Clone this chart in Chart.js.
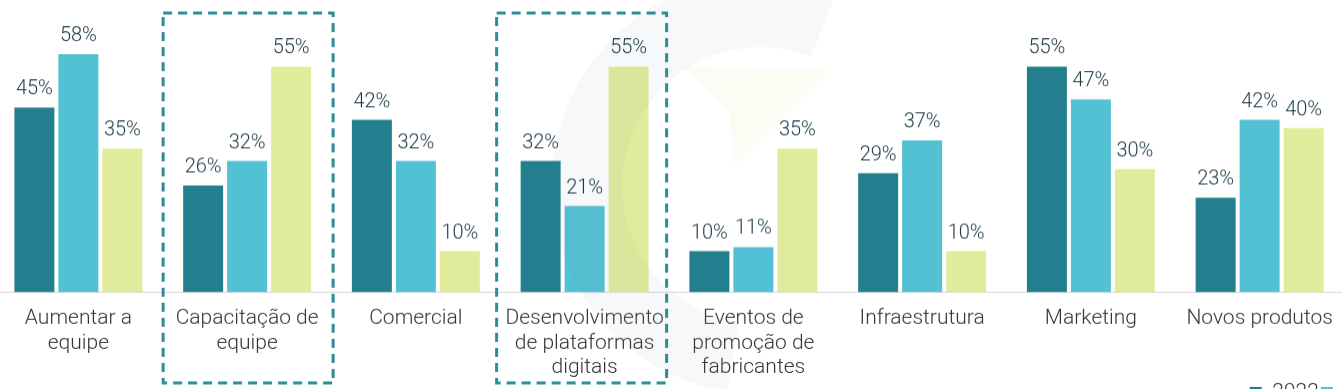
<!DOCTYPE html>
<html>
<head>
<meta charset="utf-8">
<script src="https://cdn.jsdelivr.net/npm/chart.js@4.4.1/dist/chart.umd.min.js"></script>
<style>
  html, body { margin: 0; padding: 0; background: #fff; overflow: hidden; }
  body { width: 1342px; height: 389px; position: relative; }
  #wrap { position: absolute; left: -6px; top: 0; width: 1469px; height: 412.5px; }
</style>
</head>
<body>
<div id="wrap"><canvas id="chart"></canvas></div>
<script>
const categories = [
  ["Aumentar a", "equipe"],
  ["Capacitação de", "equipe"],
  ["Comercial"],
  ["Desenvolvimento", "de plataformas", "digitais"],
  ["Eventos de", "promoção de", "fabricantes"],
  ["Infraestrutura"],
  ["Marketing"],
  ["Novos produtos"]
];
const seriesNames = ["2022", "2023", "2024"];
const values2022 = [45, 26, 42, 32, 10, 29, 55, 23];
const values2023 = [58, 32, 32, 21, 11, 37, 47, 42];
const values2024 = [35, 55, 10, 55, 35, 10, 30, 40];
const highlighted = [1, 3];
const frameShift = [0, -4];

const colors = ["#237f8e", "#53c1d4", "#e1eb9c"];

// value labels above each bar
const valueLabels = {
  id: "valueLabels",
  afterDatasetsDraw(chart) {
    const ctx = chart.ctx;
    ctx.save();
    ctx.font = "300 20px Roboto";
    ctx.fillStyle = "#1b3846";
    ctx.textAlign = "center";
    ctx.textBaseline = "alphabetic";
    chart.data.datasets.forEach((ds, i) => {
      chart.getDatasetMeta(i).data.forEach((bar, j) => {
        ctx.fillText(ds.data[j] + "%", bar.x, bar.y - 13);
      });
    });
    ctx.restore();
  }
};

// faint logo watermark behind the middle of the chart
const watermark = {
  id: "watermark",
  afterDatasetsDraw(chart) {
    const ctx = chart.ctx;
    ctx.save();
    ctx.fillStyle = "rgba(120,140,155,0.06)";
    ctx.beginPath();
    ctx.arc(766, 185, 208, Math.PI * 0.55, Math.PI * 1.62);
    ctx.arc(766, 185, 138, Math.PI * 1.62, Math.PI * 0.55, true);
    ctx.closePath();
    ctx.fill();
    ctx.fillStyle = "rgba(215,225,120,0.09)";
    ctx.beginPath();
    ctx.moveTo(688, 66);
    ctx.lineTo(836, 70);
    ctx.lineTo(740, 165);
    ctx.lineTo(735, 112);
    ctx.closePath();
    ctx.fill();
    ctx.restore();
  }
};

// dashed frames around highlighted categories
const frames = {
  id: "frames",
  afterDraw(chart) {
    const ctx = chart.ctx;
    const x = chart.scales.x;
    const area = chart.chartArea;
    ctx.save();
    ctx.strokeStyle = "#2b8e96";
    ctx.lineWidth = 3;
    ctx.setLineDash([9, 6]);
    highlighted.forEach((idx, k) => {
      const cx = x.getPixelForValue(idx) + frameShift[k];
      const top = area.top + 8;
      const bottom = area.bottom + 90.5;
      ctx.strokeRect(cx - 84, top, 170, bottom - top);
    });
    ctx.restore();
  }
};

new Chart(document.getElementById("chart").getContext("2d"), {
  type: "bar",
  data: {
    labels: categories,
    datasets: [
      { label: seriesNames[0], data: values2022, backgroundColor: colors[0] },
      { label: seriesNames[1], data: values2023, backgroundColor: colors[1] },
      { label: seriesNames[2], data: values2024, backgroundColor: colors[2] }
    ]
  },
  options: {
    responsive: true,
    maintainAspectRatio: false,
    animation: false,
    categoryPercentage: 0.782,
    barPercentage: 0.909,
    layout: { padding: { top: 5, left: 0, right: 0, bottom: 0 } },
    plugins: {
      tooltip: { enabled: false },
      legend: {
        position: "bottom",
        align: "end",
        labels: {
          boxWidth: 12,
          boxHeight: 12,
          padding: 2,
          color: "#333",
          font: { family: "Roboto", size: 21, weight: "300" }
        }
      }
    },
    scales: {
      x: {
        grid: { display: false, drawTicks: false },
        border: { display: true, color: "#d6d6d6", width: 1 },
        ticks: {
          color: "#333",
          padding: 14,
          maxRotation: 0,
          autoSkip: false,
          font: { family: "Roboto", size: 21, weight: "300", lineHeight: 1.17 }
        },
        afterFit(scale) { scale.height = 88; }
      },
      y: {
        position: "right",
        min: 0,
        max: 70,
        grid: { display: false },
        border: { display: false },
        ticks: { display: false },
        afterFit(scale) { scale.width = 119; }
      }
    }
  },
  plugins: [watermark, valueLabels, frames]
});
</script>
</body>
</html>
